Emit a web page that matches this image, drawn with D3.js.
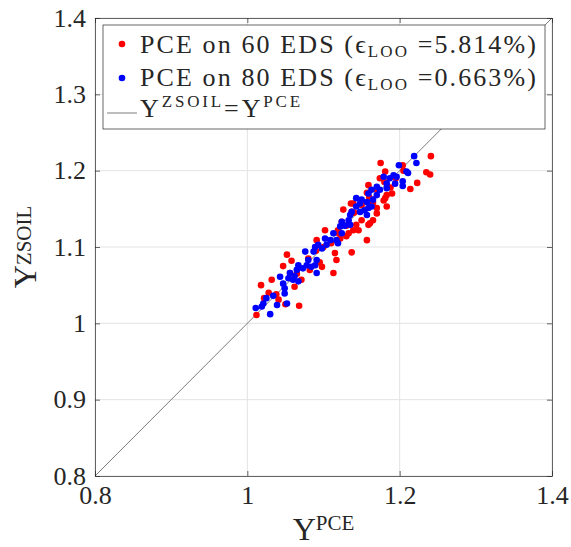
<!DOCTYPE html>
<html>
<head>
<meta charset="utf-8">
<script src="https://cdn.jsdelivr.net/npm/d3@7"></script>
<style>
  html, body { margin: 0; padding: 0; background: #fff; }
  svg { display: block; }
  text { font-family: "Liberation Serif", "DejaVu Serif", serif; fill: #262626; }
</style>
</head>
<body>
<svg id="chart" width="571" height="547"></svg>
<script>
// ---------- data ----------
const xTicks = [0.8, 1.0, 1.2, 1.4];
const yTicks = [0.8, 0.9, 1.0, 1.1, 1.2, 1.3, 1.4];
const identityLine = [[0.8, 0.8], [1.4, 1.4]];

// PCE on 60 EDS : [Y_PCE, Y_ZSOIL]
const pce60 = [
  [1.241,1.219],[1.175,1.210],[1.235,1.198],[1.240,1.195],[1.223,1.184],[1.214,1.176],
  [1.204,1.207],[1.181,1.199],[1.190,1.170],[1.159,1.181],[1.157,1.171],[1.183,1.153],
  [1.179,1.161],[1.170,1.144],[1.165,1.135],[1.159,1.129],[1.136,1.157],[1.126,1.149],
  [1.124,1.133],[1.146,1.122],[1.157,1.109],[1.130,1.114],[1.119,1.122],[1.102,1.122],
  [1.091,1.109],[1.137,1.093],[1.115,1.092],[1.117,1.083],[1.098,1.074],[1.113,1.066],
  [1.052,1.090],[1.058,1.082],[1.047,1.075],[1.071,1.057],[1.056,1.066],[1.032,1.057],
  [1.018,1.050],[1.038,1.038],[1.022,1.033],[1.041,1.031],[1.050,1.025],[1.068,1.023],
  [1.012,1.011],[1.082,1.070],[1.174,1.190],[1.183,1.168],[1.181,1.164],[1.170,1.151],
  [1.161,1.131],[1.139,1.157],[1.137,1.146],[1.143,1.129],[1.139,1.122],[1.150,1.135],
  [1.133,1.118],[1.122,1.111],[1.100,1.100],[1.120,1.118],[1.140,1.145],[1.160,1.165],
  [1.180,1.185],[1.195,1.190],[1.080,1.085],[1.065,1.065],[1.205,1.200],[1.170,1.175],
  [1.150,1.155],[1.130,1.128],[1.090,1.095],[1.110,1.105],[1.062,1.048],[1.028,1.040],
  [1.095,1.080],[1.165,1.158],[1.188,1.178]
];

// PCE on 80 EDS : [Y_PCE, Y_ZSOIL]
const pce80 = [
  [1.219,1.219],[1.222,1.210],[1.199,1.207],[1.209,1.199],[1.211,1.197],[1.204,1.180],
  [1.204,1.186],[1.192,1.194],[1.187,1.190],[1.183,1.183],[1.179,1.192],[1.170,1.179],
  [1.163,1.175],[1.159,1.170],[1.170,1.168],[1.165,1.162],[1.157,1.159],[1.159,1.151],
  [1.157,1.142],[1.148,1.157],[1.143,1.153],[1.148,1.146],[1.137,1.146],[1.135,1.142],
  [1.133,1.135],[1.135,1.129],[1.124,1.133],[1.122,1.127],[1.124,1.118],[1.113,1.118],
  [1.117,1.109],[1.119,1.105],[1.109,1.109],[1.102,1.111],[1.104,1.103],[1.093,1.103],
  [1.089,1.100],[1.087,1.094],[1.076,1.094],[1.080,1.083],[1.091,1.083],[1.089,1.076],
  [1.084,1.074],[1.078,1.076],[1.073,1.072],[1.067,1.076],[1.065,1.070],[1.091,1.066],
  [1.056,1.066],[1.054,1.059],[1.043,1.061],[1.047,1.052],[1.049,1.046],[1.067,1.055],
  [1.060,1.057],[1.049,1.039],[1.052,1.026],[1.039,1.024],[1.025,1.033],[1.021,1.026],
  [1.019,1.022],[1.011,1.020],[1.030,1.012],[1.143,1.164],[1.150,1.162],[1.154,1.148],
  [1.163,1.153],[1.174,1.175],[1.183,1.177],[1.194,1.183],[1.196,1.192],[1.128,1.128],
  [1.098,1.098],[1.062,1.062],[1.034,1.036]
];

// ---------- layout ----------
const svg = d3.select("#chart");
const L = 95, R = 552, T = 18, B = 476;
const x = d3.scaleLinear().domain([0.8, 1.4]).range([L, R]);
const y = d3.scaleLinear().domain([0.8, 1.4]).range([B, T]);
const axisColor = "#262626";
const fmt = d => String(+d.toFixed(1));

// grid
const grid = svg.append("g");
grid.selectAll("line.gx").data(xTicks).join("line")
  .attr("x1", d => x(d)).attr("x2", d => x(d)).attr("y1", T).attr("y2", B)
  .attr("stroke", "#e3e3e3").attr("stroke-width", 1);
grid.selectAll("line.gy").data(yTicks).join("line")
  .attr("y1", d => y(d)).attr("y2", d => y(d)).attr("x1", L).attr("x2", R)
  .attr("stroke", "#e3e3e3").attr("stroke-width", 1);

// identity line
svg.append("path")
  .attr("d", d3.line().x(d => x(d[0])).y(d => y(d[1]))(identityLine))
  .attr("stroke", "#5a5a5a").attr("stroke-width", 0.8).attr("fill", "none");

// points
svg.append("g").selectAll("circle").data(pce60).join("circle")
  .attr("cx", d => x(d[0])).attr("cy", d => y(d[1])).attr("r", 3.3).attr("fill", "#ff0000");
svg.append("g").selectAll("circle").data(pce80).join("circle")
  .attr("cx", d => x(d[0])).attr("cy", d => y(d[1])).attr("r", 3.3).attr("fill", "#0000ff");

// axes
function styleAxis(g) {
  g.attr("font-family", null).attr("font-size", null);
  g.select(".domain").attr("stroke", axisColor).attr("stroke-width", 0.7);
  g.selectAll(".tick line").attr("stroke", axisColor).attr("stroke-width", 0.7);
  g.selectAll(".tick text").attr("fill", axisColor)
    .style("font-family", '"Liberation Serif", serif').style("font-size", "26px");
}
svg.append("g").attr("transform", `translate(0,${B})`)
  .call(d3.axisBottom(x).tickValues(xTicks).tickFormat(fmt).tickSizeInner(-5).tickSizeOuter(0).tickPadding(10))
  .call(styleAxis);
svg.append("g").attr("transform", `translate(0,${T})`)
  .call(d3.axisTop(x).tickValues(xTicks).tickFormat("").tickSizeInner(-5).tickSizeOuter(0))
  .call(styleAxis);
svg.append("g").attr("transform", `translate(${L},0)`)
  .call(d3.axisLeft(y).tickValues(yTicks).tickFormat(fmt).tickSizeInner(-5).tickSizeOuter(0).tickPadding(9))
  .call(styleAxis);
svg.append("g").attr("transform", `translate(${R},0)`)
  .call(d3.axisRight(y).tickValues(yTicks).tickFormat("").tickSizeInner(-5).tickSizeOuter(0))
  .call(styleAxis);

// axis labels
const xl = svg.append("text").attr("x", (L + R) / 2).attr("y", 540).attr("text-anchor", "middle")
  .style("font-size", "32px");
xl.append("tspan").text("Y");
xl.append("tspan").attr("dy", -10).style("font-size", "21px").text("PCE");

const yl = svg.append("text")
  .attr("transform", `translate(36,${(T + B) / 2}) rotate(-90)`)
  .attr("text-anchor", "middle").style("font-size", "32px");
yl.append("tspan").text("Y");
yl.append("tspan").attr("dy", -5).style("font-size", "21px").text("ZSOIL");

// legend
const lg = svg.append("g");
lg.append("rect").attr("x", 103).attr("y", 25).attr("width", 442).attr("height", 104)
  .attr("fill", "#fff").attr("stroke", axisColor).attr("stroke-width", 0.7);

function legendEntry(yBase, label, eps) {
  const t = lg.append("text").attr("x", 140).attr("y", yBase).style("font-size", "26px");
  t.append("tspan").text(label + " (");
  t.append("tspan").text("ϵ");
  t.append("tspan").attr("dy", 4).style("font-size", "17px").text("LOO");
  t.append("tspan").attr("dy", -4).text(" =" + eps + ")");
  return t;
}
lg.append("circle").attr("cx", 122).attr("cy", 44).attr("r", 3.3).attr("fill", "#ff0000");
const t1 = legendEntry(53, "PCE on 60 EDS", "5.814%");
lg.append("circle").attr("cx", 122).attr("cy", 78).attr("r", 3.3).attr("fill", "#0000ff");
const t2 = legendEntry(86, "PCE on 80 EDS", "0.663%");
lg.append("line").attr("x1", 107).attr("x2", 137).attr("y1", 113).attr("y2", 113)
  .attr("stroke", "#5a5a5a").attr("stroke-width", 0.8);
const t3 = lg.append("text").attr("x", 140).attr("y", 117).style("font-size", "26px");
t3.append("tspan").text("Y");
t3.append("tspan").attr("dy", -10).style("font-size", "17px").text("ZSOIL");
t3.append("tspan").attr("dy", 10).text("=Y");
t3.append("tspan").attr("dy", -10).style("font-size", "17px").text("PCE");

// widen legend text to the reference's extent with letter spacing (font size kept)
[[t1, 398], [t2, 398], [t3, 163]].forEach(([t, w]) => {
  const cur = t.node().getComputedTextLength();
  const n = t.text().length;
  const ls = Math.max(0, (w - cur) / n);
  t.style("letter-spacing", ls.toFixed(2) + "px");
});
</script>
</body>
</html>
